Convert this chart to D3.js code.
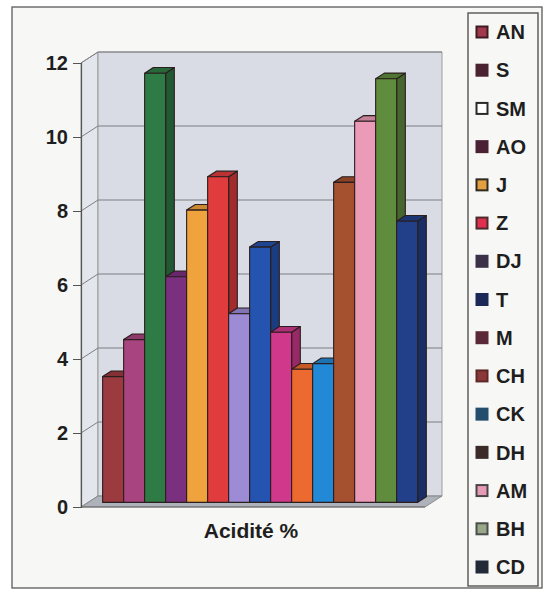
<!DOCTYPE html>
<html>
<head>
<meta charset="utf-8">
<script src="https://cdn.jsdelivr.net/npm/d3@7"></script>
<style>
  html, body { margin: 0; padding: 0; background: #ffffff; }
  svg { display: block; }
  text { font-family: "Liberation Sans", Arial, sans-serif; fill: #1e1e1e; font-weight: bold; }
</style>
</head>
<body>
<svg id="chart" width="545" height="591"></svg>
<script>
// Series (one bar each) in the single category "Acidité %"
const series = ["AN", "S", "SM", "AO", "J", "Z", "DJ", "T", "M", "CH", "CK", "DH", "AM", "BH", "CD"];
const values = [3.4, 4.4, 11.6, 6.1, 7.9, 8.8, 5.1, 6.9, 4.6, 3.6, 3.75, 8.65, 10.3, 11.45, 7.6];
const barColors = ["#9c3b3f", "#a8447f", "#2f7b45", "#7b2f7f", "#f0a23c", "#e03c3e", "#9d8bd6", "#2453b0",
                   "#d0388c", "#ec6a30", "#2189d6", "#a5502f", "#eb9ab8", "#5f8c3d", "#223f8a"];
// Legend keys: outer edge colour and inner fill colour
const keyEdge = ["#3c1c22", "#4a2232", "#2a2a2a", "#4a2234", "#2e2a20", "#4a2a2a", "#3a3048", "#1c2858",
                 "#5a2838", "#5e2828", "#244e6c", "#3a2a28", "#4a4448", "#4a4e4c", "#222a38"];
const keyFill = ["#a03a4c", "#4a2232", "#ffffff", "#4a2234", "#e2a040", "#e03050", "#3a3048", "#1c2858",
                 "#5a2838", "#8a3838", "#244e6c", "#3a2a28", "#e59ab6", "#98a888", "#222a38"];
const yTicks = [0, 2, 4, 6, 8, 10, 12];
const axisTitle = "Acidité %";

const svg = d3.select("#chart");

// Outer chart frame
svg.append("rect").attr("x", 12).attr("y", 7).attr("width", 530).attr("height", 581)
  .attr("fill", "#f7f7f5").attr("stroke", "#5a5a5a").attr("stroke-width", 1.3);

// Plot geometry: front plane and oblique depth offset
const X0 = 81, W = 344;
const DEPTH = [17, -11];
const y = d3.scaleLinear().domain([0, 12]).range([507, 63]);
const x = d3.scaleBand().domain(series).range([0, W]).paddingInner(0).paddingOuter(0.69);

// project a point (front-plane x offset, value, depth fraction)
const P = (px, v, f) => [X0 + px + f * DEPTH[0], y(v) + f * DEPTH[1]];
const poly = pts => pts.map(p => p.join(",")).join(" ");

const g = svg.append("g");

// Left side wall
g.append("polygon")
  .attr("points", poly([P(0, 0, 0), P(0, 12, 0), P(0, 12, 1), P(0, 0, 1)]))
  .attr("fill", "#e3e6ed").attr("stroke", "#8a8a8a").attr("stroke-width", 0.8);
// Back wall
g.append("polygon")
  .attr("points", poly([P(0, 0, 1), P(0, 12, 1), P(W, 12, 1), P(W, 0, 1)]))
  .attr("fill", "#d9dce5").attr("stroke", "#8a8a8a").attr("stroke-width", 0.8);
// Floor
g.append("polygon")
  .attr("points", poly([P(0, 0, 0), P(W, 0, 0), P(W, 0, 1), P(0, 0, 1)]))
  .attr("fill", "#aeb2ba").attr("stroke", "#7a7a7a").attr("stroke-width", 0.8);

// Gridlines across the side and back walls
yTicks.filter(t => t > 0).forEach(t => {
  g.append("polyline")
    .attr("points", poly([P(0, t, 0), P(0, t, 1), P(W, t, 1)]))
    .attr("fill", "none").attr("stroke", "#7d7f84").attr("stroke-width", 1);
});

// Bars: front face, right side and top, drawn left to right
const F0 = 0.42, F1 = 0.93;
const bw = x.bandwidth();
const bars = g.append("g");
series.forEach((s, i) => {
  const L = x(s), R = L + bw, v = values[i];
  const c = d3.color(barColors[i]);
  const bg = bars.append("g").attr("stroke", "#2a1e1e").attr("stroke-width", 1.1).attr("stroke-linejoin", "round");
  bg.append("polygon")
    .attr("points", poly([P(R, 0, F0), P(R, v, F0), P(R, v, F1), P(R, 0, F1)]))
    .attr("fill", c.darker(0.9));
  bg.append("polygon")
    .attr("points", poly([P(L, v, F0), P(R, v, F0), P(R, v, F1), P(L, v, F1)]))
    .attr("fill", c.darker(0.5));
  bg.append("polygon")
    .attr("points", poly([P(L, 0, F0), P(L, v, F0), P(R, v, F0), P(R, 0, F0)]))
    .attr("fill", c);
});

// Front edges of the floor and the value axis
g.append("line").attr("x1", X0).attr("x2", X0 + W).attr("y1", y(0)).attr("y2", y(0))
  .attr("stroke", "#6a6a6a").attr("stroke-width", 1.2);
const axis = d3.axisLeft(y).tickValues(yTicks).tickSize(8).tickPadding(5).tickFormat(d3.format("d"));
const ax = svg.append("g").attr("transform", `translate(${X0},0)`).call(axis);
ax.select(".domain").attr("stroke", "#555").attr("stroke-width", 1.2);
ax.selectAll(".tick line").attr("stroke", "#555");
ax.selectAll(".tick text").attr("font-size", 20).attr("fill", "#1e1e1e")
  .attr("font-family", "Liberation Sans, Arial, sans-serif").attr("font-weight", "bold");

// Category label
svg.append("text").attr("x", 251).attr("y", 538).attr("text-anchor", "middle")
  .attr("font-size", 21)
  .text(axisTitle);

// Legend
const leg = svg.append("g");
leg.append("rect").attr("x", 468).attr("y", 13).attr("width", 70).attr("height", 573)
  .attr("fill", "#f7f7f5").attr("stroke", "#555").attr("stroke-width", 1.4);
const ly = d3.scalePoint().domain(series).range([32, 567]);
series.forEach((s, i) => {
  const cy = ly(s);
  leg.append("rect").attr("x", 476.5).attr("y", cy - 5.5).attr("width", 11).attr("height", 11)
    .attr("fill", keyFill[i]).attr("stroke", keyEdge[i]).attr("stroke-width", 2);
  leg.append("text").attr("x", 496).attr("y", cy).attr("dy", "0.36em")
    .attr("font-size", 20)
    .text(s);
});
</script>
</body>
</html>
